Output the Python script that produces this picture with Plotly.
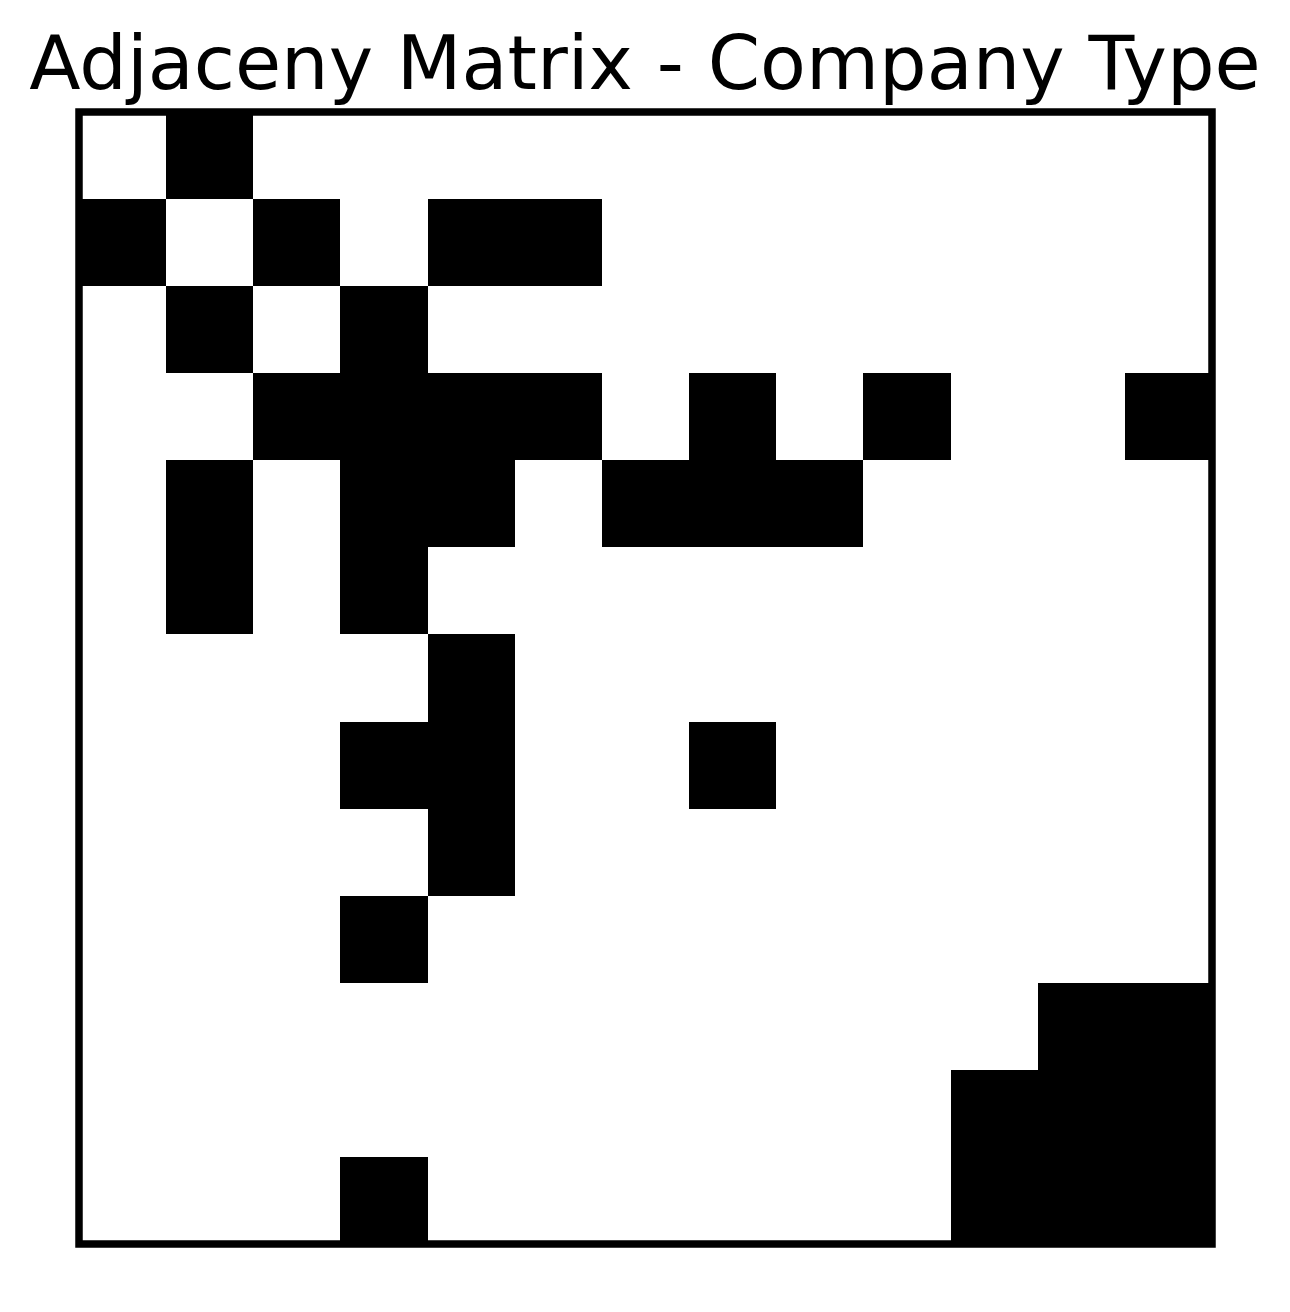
import plotly.graph_objects as go

n = 13
nodes = list(range(n))
# adjacency rows (1 = black cell)
row_0 = [0,1,0,0,0,0,0,0,0,0,0,0,0]
row_1 = [1,0,1,0,1,1,0,0,0,0,0,0,0]
row_2 = [0,1,0,1,0,0,0,0,0,0,0,0,0]
row_3 = [0,0,1,1,1,1,0,1,0,1,0,0,1]
row_4 = [0,1,0,1,1,0,1,1,1,0,0,0,0]
row_5 = [0,1,0,1,0,0,0,0,0,0,0,0,0]
row_6 = [0,0,0,0,1,0,0,0,0,0,0,0,0]
row_7 = [0,0,0,1,1,0,0,1,0,0,0,0,0]
row_8 = [0,0,0,0,1,0,0,0,0,0,0,0,0]
row_9 = [0,0,0,1,0,0,0,0,0,0,0,0,0]
row_10 = [0,0,0,0,0,0,0,0,0,0,0,1,1]
row_11 = [0,0,0,0,0,0,0,0,0,0,1,1,1]
row_12 = [0,0,0,1,0,0,0,0,0,0,1,1,1]
matrix = [row_0, row_1, row_2, row_3, row_4, row_5, row_6, row_7, row_8,
          row_9, row_10, row_11, row_12]

fig = go.Figure(go.Heatmap(
    z=matrix, x=nodes, y=nodes,
    colorscale=[[0, "white"], [1, "black"]],
    zmin=0, zmax=1, showscale=False, xgap=0, ygap=0,
))

fig.add_shape(type="rect", xref="paper", yref="paper", x0=0, x1=1,
              y0=0, y1=1, line=dict(color="black", width=7.5),
              fillcolor="rgba(0,0,0,0)", layer="above")

fig.update_layout(
    width=1290, height=1312,
    margin=dict(l=79, r=78, t=112, b=68),
    paper_bgcolor="white", plot_bgcolor="white",
    title=dict(text="Adjaceny Matrix - Company Type", x=0.5, xanchor="center",
               y=1 - 89 / 1312, yanchor="bottom",
               font=dict(family="DejaVu Sans", size=75, color="black")),
    xaxis=dict(range=[-0.5, n - 0.5], showticklabels=False, ticks="",
               showgrid=False, zeroline=False, showline=False),
    yaxis=dict(range=[n - 0.5, -0.5], showticklabels=False, ticks="",
               showgrid=False, zeroline=False, showline=False),
)

fig.write_html("out.html")
